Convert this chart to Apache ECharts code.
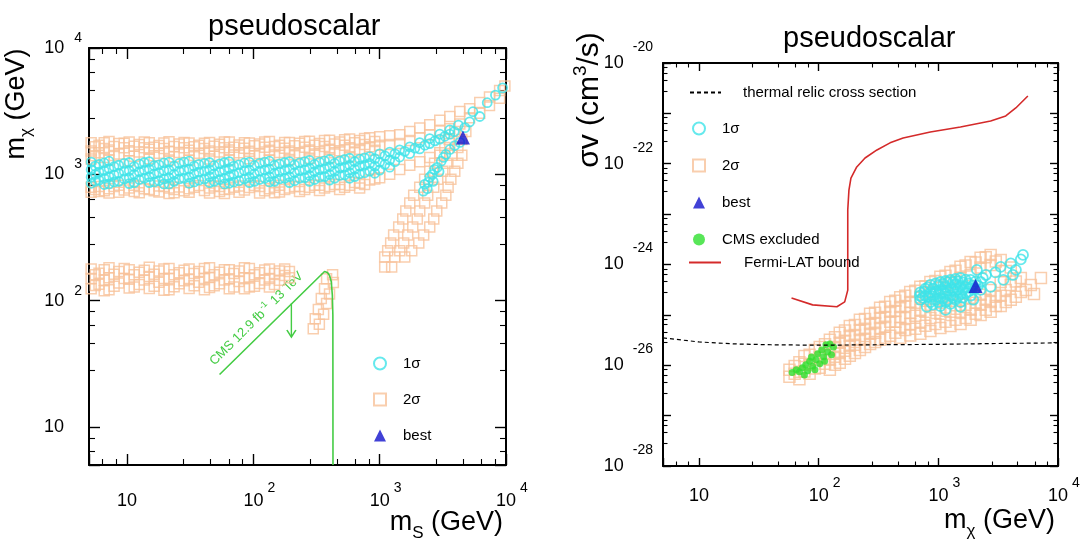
<!DOCTYPE html>
<html><head><meta charset="utf-8">
<script src="https://cdn.jsdelivr.net/npm/echarts@6/dist/echarts.min.js"></script>
<style>html,body{margin:0;padding:0;background:#fff}#c{width:1083px;height:540px}</style>
</head><body><div id="c"></div><script>
const SANS = '"Liberation Sans", Arial, Helvetica, sans-serif';
const SV_SHIFT = 26;            // sigma v plotted in units of 1e-26 cm^3/s
const SV_SCALE = 1e26;

// ---------- LEFT PANEL (m_S, m_chi) ----------
const L_SIGMA2 = [
[5.2,1780],[5.2,1530],[5.2,1320],[5.2,790],[5.2,720],
[6.0,1700],[6.0,1480],[6.0,800],[6.0,730],
[7.2,1820],[7.2,1560],[7.2,1300],[7.2,770],[7.2,710],
[8.6,1750],[8.6,1450],[8.6,820],[8.6,720],
[10.4,1800],[10.4,1540],[10.4,1280],[10.4,780],
[12.5,1720],[12.5,1500],[12.5,800],[12.5,715],
[15,1780],[15,1580],[15,1330],[15,760],
[17.9,1690],[17.9,1470],[17.9,810],[17.9,725],
[21.5,1810],[21.5,1520],[21.5,1300],[21.5,780],[21.5,705],
[25.9,1740],[25.9,1490],[25.9,795],
[31,1770],[31,1550],[31,1290],[31,770],[31,720],
[37,1700],[37,1470],[37,815],
[45,1790],[45,1530],[45,1320],[45,780],[45,710],
[54,1730],[54,1500],[54,800],[54,730],
[64.5,1800],[64.5,1560],[64.5,1300],[64.5,765],
[77,1710],[77,1480],[77,810],[77,720],
[93,1770],[93,1520],[93,1330],[93,785],
[112,1740],[112,1460],[112,800],[112,710],
[134,1820],[134,1550],[134,1300],[134,770],
[161,1700],[161,1490],[161,820],[161,725],
[193,1790],[193,1530],[193,1310],[193,780],
[232,1760],[232,1480],[232,800],[232,730],
[278,1830],[278,1560],[278,1340],[278,790],
[334,1750],[334,1510],[334,820],[334,745],
[401,1860],[401,1580],[401,1350],[401,800],
[482,1800],[482,1540],[482,830],[482,760],
[578,1900],[578,1620],[578,1380],[578,820],
[694,1850],[694,1580],[694,850],[694,780],
[833,1950],[833,1650],[833,900],
[1000,1980],[1000,1700],[1000,940],
[1200,2020],[1200,1720],[1200,1000],
[1440,2060],[1440,1750],[1440,1090],
[1730,2180],[1730,1850],[1730,1180],
[2075,2330],[2075,1950],[2075,1260],
[2490,2470],[2490,2050],[2490,1360],
[2990,2680],[2990,2200],[2990,1480],
[3590,2870],[3590,2300],[3590,1750],
[4310,3150],[4310,2500],
[5150,3300],[5150,2800],[6200,3700],[6200,3050],[7400,4100],[7400,3500],[8900,4600],[8900,4000],[9800,5000]
];
const L_SIGMA2_B = [
[5.6,1650],[5.6,1400],[5.6,760],[6.6,1780],[6.6,1600],[6.6,1360],[6.6,740],[7.9,1660],[7.9,1410],[7.9,800],
[9.5,1760],[9.5,1620],[9.5,750],[11.4,1670],[11.4,1390],[11.4,820],[11.4,730],[13.7,1800],[13.7,1620],[13.7,770],
[16.4,1640],[16.4,1400],[16.4,740],[19.6,1770],[19.6,1600],[19.6,800],[23.6,1660],[23.6,1380],[23.6,760],[23.6,715],
[28.3,1790],[28.3,1620],[28.3,740],[34,1650],[34,1410],[34,790],[41,1760],[41,1600],[41,745],[49,1670],[49,1390],[49,810],
[59,1800],[59,1620],[59,760],[59,705],[70,1640],[70,1420],[70,790],[85,1780],[85,1610],[85,750],[102,1680],[102,1400],[102,815],
[123,1800],[123,1640],[123,740],[147,1660],[147,1420],[147,790],[147,715],[177,1790],[177,1610],[177,760],
[212,1680],[212,1430],[212,800],[255,1820],[255,1640],[255,760],[305,1700],[305,1450],[305,820],
[366,1850],[366,1660],[366,780],[440,1740],[440,1480],[440,830],[528,1880],[528,1700],[528,790],
[634,1780],[634,1500],[634,860],[760,1920],[760,1720],[760,830],[915,1820],[915,1550],[915,920]
];
const L_SIGMA2_LOW = [
[5.2,178],[5.2,150],[5.2,124],[6.0,165],[6.0,135],[7.2,182],[7.2,152],[7.2,122],[8.6,170],[8.6,138],
[10.4,176],[10.4,148],[10.4,126],[12.5,168],[12.5,134],[15,184],[15,155],[15,125],[17.9,172],[17.9,140],
[21.5,180],[21.5,150],[21.5,122],[25.9,166],[25.9,136],[31,178],[31,147],[31,125],[37,170],[37,140],
[45,182],[45,153],[45,127],[54,168],[54,136],[64.5,176],[64.5,149],[64.5,124],[77,172],[77,142],
[93,180],[93,151],[93,128],[112,166],[112,137],[134,178],[134,150],[134,128],[161,172],[161,145],
[193,170],[193,152],
[5.6,160],[5.6,132],[6.6,176],[6.6,145],[6.6,120],[7.9,162],[7.9,130],[9.5,180],[9.5,150],[11.4,160],[11.4,128],
[13.7,174],[13.7,146],[16.4,162],[16.4,130],[19.6,178],[19.6,150],[19.6,121],[23.6,160],[23.6,129],[28.3,174],[28.3,144],
[34,164],[34,131],[41,180],[41,150],[41,122],[49,160],[49,131],[59,176],[59,146],[70,164],[70,128],[85,182],[85,152],[85,124],
[102,160],[102,130],[123,175],[123,146],[147,164],[147,134],[177,178],[177,158]
];
const L_SIGMA2_PATCH = [
[424,160],[380,149],[430,139],[366,124],[401,113],[345,104],[380,95],[327,85],[360,78],[309,72],[333,65],[298,60]
];
const L_SIGMA2_BRANCH = [
[1096,185],[1244,185],
[1096,222],[1315,222],[1580,222],
[1157,248],[1442,248],[1793,248],
[1222,286],[1550,286],[2040,286],
[1290,331],[1667,331],[2230,331],
[1415,383],[1828,383],[2490,383],
[1523,443],[1985,443],[2680,443],
[1610,512],[2075,512],[2830,512],
[1730,592],[2270,592],[3100,592],
[1860,684],[2400,684],[3340,684],
[2075,791],[2680,791],[3480,791],
[2270,914],[2880,914],[3660,914],
[2490,1057],[3160,1057],[3930,1057],
[2720,1222],[3400,1222],[4160,1222],
[2990,1413],[3740,1413],[4470,1413],
[3280,1633],[4160,1633],
[3550,1888],[4470,1888],
[3930,2183],[4810,2183]
];
const L_SIGMA1 = [
[5.2,1250],[5.2,1090],[5.2,950],[5.2,850],
[6.0,1200],[6.0,1040],[6.0,900],
[7.2,1270],[7.2,1110],[7.2,960],[7.2,840],
[8.6,1180],[8.6,1020],[8.6,880],
[10.4,1240],[10.4,1070],[10.4,940],[10.4,845],
[12.5,1210],[12.5,1050],[12.5,910],
[15,1260],[15,1100],[15,960],[15,860],
[17.9,1190],[17.9,1030],[17.9,890],
[21.5,1250],[21.5,1080],[21.5,940],[21.5,840],
[25.9,1220],[25.9,1060],[25.9,920],
[31,1270],[31,1100],[31,950],[31,850],
[37,1200],[37,1040],[37,900],
[45,1240],[45,1090],[45,960],[45,860],
[54,1210],[54,1050],[54,910],
[64.5,1260],[64.5,1110],[64.5,970],[64.5,850],
[77,1190],[77,1030],[77,890],
[93,1250],[93,1080],[93,950],[93,860],
[112,1220],[112,1060],[112,910],
[134,1270],[134,1100],[134,960],[134,870],
[161,1210],[161,1050],[161,920],
[193,1260],[193,1100],[193,960],[193,860],
[232,1230],[232,1070],[232,930],
[278,1290],[278,1120],[278,980],[278,880],
[334,1250],[334,1090],[334,950],
[401,1310],[401,1150],[401,1000],[401,900],
[482,1280],[482,1120],[482,980],
[578,1340],[578,1180],[578,1030],[578,930],
[694,1320],[694,1160],[694,1010],
[833,1380],[833,1220],[833,1060],
[1000,1450],[1000,1250],[1000,1080],
[1200,1500],[1200,1300],[1200,1140],
[1440,1560],[1440,1370],
[1730,1650],[1730,1460],
[2075,1780],[2075,1590],
[2490,1920],[2490,1750],
[2990,2080],[2990,1900],
[3590,2250],[3590,2080],
[4200,2450],[4730,2340],[5150,2600],[5470,3130],[6200,2870],[7100,3690],[8250,4240],[9400,4840],
[2220,735],[2380,770],[2270,834],[2420,866],[2650,880],[2490,950],[2610,1000],[2720,1094],
[2950,1050],[2850,1135],[3070,1270],[3200,1360],[3340,1436],[3600,1573],[3930,1690],[4310,1790]
];
const L_SIGMA1_B = [
[5.6,1160],[5.6,1000],[5.6,880],[6.6,1230],[6.6,1070],[6.6,930],[6.6,830],[7.9,1150],[7.9,990],[7.9,870],
[9.5,1220],[9.5,1060],[9.5,920],[11.4,1150],[11.4,1000],[11.4,860],[13.7,1240],[13.7,1080],[13.7,930],
[16.4,1170],[16.4,1010],[16.4,870],[19.6,1230],[19.6,1070],[19.6,920],[19.6,840],[23.6,1160],[23.6,1000],[23.6,880],
[28.3,1250],[28.3,1080],[28.3,930],[34,1160],[34,1010],[34,870],[41,1220],[41,1060],[41,920],[49,1170],[49,1010],[49,880],
[59,1240],[59,1080],[59,930],[59,840],[70,1160],[70,1000],[70,870],[85,1230],[85,1070],[85,920],[102,1170],[102,1010],[102,880],
[123,1250],[123,1080],[123,930],[147,1180],[147,1020],[147,880],[177,1240],[177,1080],[177,930],[212,1190],[212,1030],[212,890],
[255,1260],[255,1090],[255,940],[305,1200],[305,1050],[305,910],[366,1280],[366,1110],[366,960],[440,1220],[440,1060],[440,930],
[528,1310],[528,1140],[528,990],[634,1260],[634,1100],[634,960],[760,1350],[760,1180],[760,1030],[915,1330],[915,1160],[915,1020],
[1100,1400],[1100,1200],[1320,1450],[1320,1260],[1580,1520],[1900,1610],[2280,1700],[2740,1840],[3280,2000],[3900,2180]
];
const L_BEST = [[4560,1960]];
const L_CMS_BOUND = [[54,26],[366,170],[386,167],[401,158],[414,141],[422,110],[426,77],[427,5]];
const L_CMS_ARROW = [[200,95],[200,52]];
const L_CMS_TEXT_AT = [106,72];

// ---------- RIGHT PANEL (m_chi, sigma v) ----------
const R_SIGMA2 = [
[57,8.1e-27],[57,5.9e-27],
[69,1.15e-26],[69,7.4e-27],[69,5.3e-27],
[84,1.61e-26],[84,1.02e-26],[84,6.8e-27],
[102,2.3e-26],[102,1.45e-26],[102,8.9e-27],
[124,3.2e-26],[124,2.0e-26],[124,1.28e-26],[124,8.1e-27],
[150,4.4e-26],[150,2.8e-26],[150,1.75e-26],[150,1.12e-26],
[182,6.0e-26],[182,3.85e-26],[182,2.45e-26],[182,1.55e-26],
[221,8.0e-26],[221,5.0e-26],[221,3.2e-26],[221,2.0e-26],
[269,1.05e-25],[269,6.6e-26],[269,4.2e-26],[269,2.65e-26],
[326,1.38e-25],[326,8.7e-26],[326,5.5e-26],[326,3.2e-26],
[396,1.8e-25],[396,1.15e-25],[396,7.3e-26],[396,3.85e-26],
[480,2.25e-25],[480,1.44e-25],[480,9.1e-26],[480,5.5e-26],[480,3.5e-26],
[582,2.85e-25],[582,1.8e-25],[582,1.1e-25],[582,6.6e-26],[582,3.9e-26],
[707,3.6e-25],[707,2.25e-25],[707,1.26e-25],[707,7.3e-26],[707,4.2e-26],
[858,4.5e-25],[858,2.85e-25],[858,1.58e-25],[858,8.7e-26],[858,4.8e-26],
[1040,5.7e-25],[1040,3.4e-25],[1040,2.0e-25],[1040,1.05e-25],[1040,5.5e-26],
[1262,7.1e-25],[1262,4.3e-25],[1262,2.2e-25],[1262,1.15e-25],[1262,6.0e-26],
[1532,9.0e-25],[1532,5.4e-25],[1532,2.0e-25],[1532,1.15e-25],[1532,6.6e-26],
[1860,1.12e-24],[1860,6.2e-25],[1860,2.2e-25],[1860,1.26e-25],[1860,8.0e-26],
[2255,1.36e-24],[2255,8.7e-25],[2255,2.5e-25],[2255,1.58e-25],[2255,1.0e-25],
[2736,1.55e-24],[2736,9.8e-25],[2736,3.1e-25],[2736,1.8e-25],[2736,1.15e-25],
[3320,1.23e-24],[3320,4.5e-25],[3320,2.4e-25],[3320,1.5e-25],
[4030,8.7e-25],[4030,3.9e-25],[4030,2.0e-25],
[4890,5.4e-25],[4890,2.85e-25],
[5930,3.9e-25],[7200,5.4e-25],[6300,2.6e-25]
];
const R_SIGMA2_B = [
[63,9.7e-27],[63,6.8e-27],
[76,1.53e-26],[76,1.07e-26],[76,7.5e-27],
[93,2.0e-26],[93,1.28e-26],[93,8.6e-27],
[113,2.6e-26],[113,1.68e-26],[113,1.07e-26],
[137,3.6e-26],[137,2.3e-26],[137,1.47e-26],[137,1.02e-26],
[166,4.9e-26],[166,3.05e-26],[166,1.95e-26],[166,1.34e-26],
[201,6.3e-26],[201,4.0e-26],[201,2.54e-26],[201,1.75e-26],
[244,8.3e-26],[244,5.3e-26],[244,3.35e-26],[244,2.3e-26],
[296,1.1e-25],[296,6.9e-26],[296,4.4e-26],[296,2.9e-26],
[359,1.45e-25],[359,9.1e-26],[359,5.8e-26],[359,3.5e-26],
[437,1.9e-25],[437,1.2e-25],[437,7.3e-26],[437,4.4e-26],
[529,2.4e-25],[529,1.5e-25],[529,8.7e-26],[529,5.0e-26],
[642,3.0e-25],[642,1.75e-25],[642,9.6e-26],[642,5.3e-26],
[780,3.7e-25],[780,2.1e-25],[780,1.15e-25],[780,6.1e-26],
[945,4.7e-25],[945,2.5e-25],[945,1.26e-25],[945,6.6e-26],
[1148,6.0e-25],[1148,2.8e-25],[1148,1.4e-25],[1148,7.3e-26],
[1393,7.5e-25],[1393,1.55e-25],[1393,8.0e-26],
[1690,9.5e-25],[1690,1.58e-25],[1690,8.7e-26],
[2050,1.1e-24],[2050,1.75e-25],[2050,1.05e-25],
[2490,1.4e-24],[2490,2.0e-25],[2490,1.26e-25],
[3020,1.15e-24],[3020,2.3e-25],[3020,1.5e-25],
[3660,7.4e-25],[3660,3.1e-25],[3660,1.8e-25],
[4440,4.6e-25],[4440,2.3e-25],
[5390,3.1e-25]
];
const R_CMS_EXCL = [
[60,7.2e-27],[65,8.1e-27],[69,7.4e-27],[73,8.9e-27],[78,1.02e-26],[81,7.8e-27],[84,1.2e-26],[89,9.6e-27],
[87,1.45e-26],[95,1.28e-26],[98,1.7e-26],[102,1.07e-26],[106,2.0e-26],[110,1.47e-26],[115,2.54e-26],
[119,1.85e-26],[124,2.65e-26],[128,1.61e-26],[133,2.3e-26],[93,8.1e-27],[76,6.4e-27],[112,1.2e-26]
];
const R_SIGMA1 = [
[707,2.8e-25],[707,2.0e-25],[740,2.2e-25],[800,1.45e-25],[780,3.3e-25],[780,2.4e-25],
[858,3.94e-25],[858,2.75e-25],[858,1.8e-25],
[950,4.2e-25],[950,2.9e-25],[950,2.0e-25],
[1040,4.5e-25],[1040,3.13e-25],[1040,2.2e-25],[1040,1.5e-25],
[1150,4.7e-25],[1150,3.6e-25],[1150,2.6e-25],[1150,1.8e-25],[1150,1.26e-25],
[1262,4.95e-25],[1262,3.4e-25],[1262,2.4e-25],[1262,1.65e-25],
[1390,5.2e-25],[1390,4.0e-25],[1390,2.9e-25],[1390,2.0e-25],
[1532,5.4e-25],[1532,3.75e-25],[1532,2.6e-25],[1532,1.8e-25],[1530,1.45e-25],
[1690,5.0e-25],[1690,3.6e-25],[1690,2.7e-25],
[1860,4.95e-25],[1860,3.4e-25],[1860,2.4e-25],[1960,2.0e-25],
[2050,4.6e-25],[2050,3.3e-25],
[2255,4.5e-25],[2255,3.13e-25],
[2100,7.8e-25],[2500,6.2e-25],[2740,3.6e-25],[3000,7.0e-25],[3320,9.0e-25],[3500,4.95e-25],
[4030,1.05e-24],[4200,6.2e-25],[4450,7.8e-25],[4890,1.26e-24],[5100,1.55e-24],
[700,2.4e-25],[760,2.9e-25],[820,3.5e-25],[820,2.3e-25],[900,3.3e-25],[900,2.3e-25],[900,1.6e-25],
[1000,3.8e-25],[1000,2.6e-25],[1000,1.8e-25],[1100,4.1e-25],[1100,2.9e-25],[1100,2.1e-25],
[1200,4.4e-25],[1200,3.0e-25],[1200,2.0e-25],[1330,4.5e-25],[1330,3.1e-25],[1330,2.2e-25],
[1460,4.6e-25],[1460,3.2e-25],[1460,2.3e-25],[1600,4.4e-25],[1600,3.1e-25],[1600,2.2e-25],
[1780,4.2e-25],[1780,2.9e-25],[1950,3.8e-25],[2150,3.8e-25],[2350,5.4e-25]
];
const R_BEST = [[2047,3.76e-25]];
const R_THERMAL_X = [5, 10, 20, 40, 100, 300, 1000, 3000, 10000];
const R_THERMAL_Y = [3.5e-26, 2.9e-26, 2.65e-26, 2.55e-26, 2.5e-26, 2.55e-26, 2.6e-26, 2.7e-26, 2.78e-26];
const R_FERMI_X = [59.3, 89, 142, 165, 175, 175, 175, 179, 186, 208, 244, 307, 395, 508, 857, 1530, 2735, 3660, 4440, 5600];
const R_FERMI_Y = [2.17e-25, 1.58e-25, 1.45e-25, 1.81e-25, 3.1e-25, 1.95e-24, 1.21e-23, 3.0e-23, 5.2e-23, 8.65e-23, 1.3e-22, 1.88e-22, 2.6e-22, 3.25e-22, 4.28e-22, 5.37e-22, 7.06e-22, 8.9e-22, 1.28e-21, 2.21e-21];

// ---------- helpers ----------
const C_CYAN = '#3fe3e8', C_ORANGE = '#f7c29a', C_BLUE = '#1212cc', C_GREEN = '#2ee02e', C_CMS = '#44cc44', C_RED = '#d42a2a';
const sv = p => [p[0], p[1] * SV_SCALE];
function expOf(v) { if (!(v > 0)) return null; const e = Math.round(Math.log10(v)); return Math.abs(v / Math.pow(10, e) - 1) < 1e-6 ? e : null; }
const xRich = {
  b: { fontSize: 18, lineHeight: 41, fontFamily: SANS, color: '#000' },
  s: { fontSize: 14, lineHeight: 14, verticalAlign: 'top', padding: [0, 0, 0, 4], fontFamily: SANS, color: '#000' },
  p: { width: 12, lineHeight: 41 }
};
function xFmt(v) { const e = expOf(v); if (e === null || e < 1) return ''; if (e === 1) return '{b|10}'; return '{p|}{b|10}{s|' + e + '}'; }
const yRichL = {
  b: { fontSize: 18, lineHeight: 34, fontFamily: SANS, color: '#000' },
  s: { fontSize: 14, lineHeight: 14, verticalAlign: 'top', padding: [0, 0, 0, 10], fontFamily: SANS, color: '#000' },
  q: { width: 18, lineHeight: 34 }
};
function yFmtL(v) { const e = expOf(v); if (e === null || e < 1) return ''; if (e === 1) return '{b|10}{q|}'; return '{b|10}{s|' + e + '}'; }
const yRichR = {
  b: { fontSize: 18, lineHeight: 46, fontFamily: SANS, color: '#000' },
  s: { fontSize: 14, lineHeight: 14, verticalAlign: 'top', padding: [0, 0, 0, 9], fontFamily: SANS, color: '#000' }
};
function yFmtR(v) { const e = expOf(v); if (e === null) return ''; const E = e - SV_SHIFT; if (E % 2 !== 0) return ''; return '{b|10}{s|' + E + '}'; }

function axis(grid, pos, min, max, tickLen, minorLen, label) {
  return {
    gridIndex: grid, type: 'log', position: pos, min: min, max: max,
    axisLine: { show: true, onZero: false, lineStyle: { color: '#000', width: 2 } },
    axisTick: { show: true, inside: true, length: tickLen, lineStyle: { color: '#000', width: 1.4 } },
    minorTick: { show: true, length: minorLen, lineStyle: { color: '#000', width: 1.1 } },
    axisLabel: label ? label : { show: false },
    splitLine: { show: false }, minorSplitLine: { show: false }
  };
}
const hollow = (c, w) => ({ color: 'rgba(0,0,0,0)', borderColor: c, borderWidth: w });
const zip = (xs, ys) => xs.map((x, i) => [x, ys[i]]);
const noDot = { color: 'rgba(0,0,0,0)', borderColor: 'rgba(0,0,0,0)', borderWidth: 0 };

const L_RANGE = [5, 1e4];
const R_XRANGE = [5, 1e4];
const R_YRANGE = [Math.pow(10, -28 + SV_SHIFT), Math.pow(10, -20 + SV_SHIFT)];
const legendText = (pad) => ({ fontSize: 15, lineHeight: 12, color: '#000', fontFamily: SANS, padding: [0, 0, 0, pad] });

const chart = echarts.init(document.getElementById('c'), null, { renderer: 'canvas' });
const option = {
  animation: false,
  backgroundColor: '#fff',
  textStyle: { fontFamily: SANS },
  title: [
    { text: 'pseudoscalar', left: 208, top: 12, padding: 0, textStyle: { fontSize: 29, fontWeight: 'normal', color: '#000', fontFamily: SANS } },
    { text: 'pseudoscalar', left: 783, top: 24, padding: 0, textStyle: { fontSize: 29, fontWeight: 'normal', color: '#000', fontFamily: SANS } }
  ],
  grid: [
    { left: 89, top: 48, width: 417, height: 417, containLabel: false, outerBoundsMode: 'none' },
    { left: 663, top: 63, width: 395, height: 403, containLabel: false, outerBoundsMode: 'none' }
  ],
  legend: [
    { data: ['1σ', '2σ', 'best'], orient: 'vertical', left: 373, top: 356, padding: 0, itemWidth: 12, itemHeight: 12, itemGap: 21, selectedMode: false,
      textStyle: legendText(12) },
    { data: ['thermal relic cross section'], orient: 'vertical', left: 689, top: 85, padding: 0, itemWidth: 31, itemHeight: 12, selectedMode: false,
      itemStyle: noDot, textStyle: legendText(17) },
    { data: ['1σ', '2σ', 'best', 'CMS excluded'], orient: 'vertical', left: 692, top: 121, padding: 0, itemWidth: 12, itemHeight: 12, itemGap: 22, selectedMode: false,
      textStyle: legendText(12) },
    { data: ['Fermi-LAT bound'], orient: 'vertical', left: 688, top: 255, padding: 0, itemWidth: 32, itemHeight: 12, selectedMode: false,
      itemStyle: noDot, textStyle: legendText(18) }
  ],
  xAxis: [
    axis(0, 'bottom', L_RANGE[0], L_RANGE[1], 11, 6, { margin: 16, formatter: xFmt, rich: xRich }),
    axis(0, 'top', L_RANGE[0], L_RANGE[1], 11, 6, null),
    axis(1, 'bottom', R_XRANGE[0], R_XRANGE[1], 8, 4.5, { margin: 10, formatter: xFmt, rich: xRich }),
    axis(1, 'top', R_XRANGE[0], R_XRANGE[1], 8, 4.5, null)
  ],
  yAxis: [
    axis(0, 'left', L_RANGE[0], L_RANGE[1], 11, 6, { margin: 7, formatter: yFmtL, rich: yRichL }),
    axis(0, 'right', L_RANGE[0], L_RANGE[1], 11, 6, null),
    axis(1, 'left', R_YRANGE[0], R_YRANGE[1], 8, 4.5, { margin: 10, formatter: yFmtR, rich: yRichR }),
    axis(1, 'right', R_YRANGE[0], R_YRANGE[1], 8, 4.5, null)
  ],
  series: [
    { name: '2σ', type: 'scatter', xAxisIndex: 0, yAxisIndex: 0, symbol: 'rect', symbolSize: 10, itemStyle: hollow(C_ORANGE, 1.5),
      data: L_SIGMA2.concat(L_SIGMA2_B, L_SIGMA2_LOW, L_SIGMA2_PATCH, L_SIGMA2_BRANCH), silent: true },
    { name: '1σ', type: 'scatter', xAxisIndex: 0, yAxisIndex: 0, symbol: 'circle', symbolSize: 9, itemStyle: hollow(C_CYAN, 1.8), data: L_SIGMA1.concat(L_SIGMA1_B), silent: true },
    { name: 'best', type: 'scatter', xAxisIndex: 0, yAxisIndex: 0, symbol: 'triangle', symbolSize: 14, itemStyle: { color: C_BLUE }, data: L_BEST, silent: true },
    { type: 'line', xAxisIndex: 0, yAxisIndex: 0, symbol: 'none', lineStyle: { color: C_CMS, width: 1.6 }, data: L_CMS_BOUND, silent: true, z: 3 },
    { type: 'line', xAxisIndex: 0, yAxisIndex: 0, symbol: 'none', showSymbol: true, lineStyle: { color: C_CMS, width: 1.4 }, silent: true, z: 3,
      data: [L_CMS_ARROW[0], { value: L_CMS_ARROW[1], symbol: 'path://M0,0L5,8L10,0', symbolSize: [9, 7], symbolOffset: [0, -3], itemStyle: { color: 'rgba(0,0,0,0)', borderColor: C_CMS, borderWidth: 1.4 } }] },

    { name: '2σ', type: 'scatter', xAxisIndex: 2, yAxisIndex: 2, symbol: 'rect', symbolSize: 11, itemStyle: hollow(C_ORANGE, 1.5), data: R_SIGMA2.concat(R_SIGMA2_B).map(sv), silent: true },
    { name: 'CMS excluded', type: 'scatter', xAxisIndex: 2, yAxisIndex: 2, symbol: 'circle', symbolSize: 7, itemStyle: { color: C_GREEN }, data: R_CMS_EXCL.map(sv), silent: true },
    { name: '1σ', type: 'scatter', xAxisIndex: 2, yAxisIndex: 2, symbol: 'circle', symbolSize: 10, itemStyle: hollow(C_CYAN, 1.8), data: R_SIGMA1.map(sv), silent: true },
    { name: 'thermal relic cross section', type: 'line', xAxisIndex: 2, yAxisIndex: 2, symbol: 'none', itemStyle: { color: '#000' }, lineStyle: { color: '#000', width: 1.2, type: [4, 3] }, data: zip(R_THERMAL_X, R_THERMAL_Y).map(sv), silent: true, z: 4 },
    { name: 'Fermi-LAT bound', type: 'line', xAxisIndex: 2, yAxisIndex: 2, symbol: 'none', itemStyle: { color: C_RED }, lineStyle: { color: C_RED, width: 1.6 }, data: zip(R_FERMI_X, R_FERMI_Y).map(sv), silent: true },
    { name: 'best', type: 'scatter', xAxisIndex: 2, yAxisIndex: 2, symbol: 'triangle', symbolSize: 14, itemStyle: { color: C_BLUE }, data: R_BEST.map(sv), silent: true, z: 6 }
  ]
};
chart.setOption(option);

const axisNameRich = () => ({
  m: { fontSize: 27, lineHeight: 37, fontFamily: SANS, fill: '#000' },
  u: { fontSize: 17, lineHeight: 17, verticalAlign: 'bottom', fontFamily: SANS, fill: '#000' }
});
const cmsAt = chart.convertToPixel({ xAxisIndex: 0, yAxisIndex: 0 }, L_CMS_TEXT_AT);
chart.setOption({
  graphic: [
    { type: 'text', x: 503, y: 523, silent: true, style: { text: '{m|m}{u|S}{m| (GeV)}', rich: axisNameRich(), align: 'right', verticalAlign: 'middle' } },
    { type: 'text', x: 1055, y: 521, silent: true, style: { text: '{m|m}{u|χ}{m| (GeV)}', rich: axisNameRich(), align: 'right', verticalAlign: 'middle' } },
    { type: 'text', x: 16.5, y: 104, rotation: Math.PI / 2, silent: true, style: { text: '{m|m}{u|χ}{m| (GeV)}', rich: axisNameRich(), align: 'center', verticalAlign: 'middle' } },
    { type: 'text', x: 589.5, y: 100, rotation: Math.PI / 2, silent: true, style: { text: '{m|σv (cm}{u|3}{m|/s)}', rich: {
        m: { fontSize: 30, lineHeight: 37, fontFamily: SANS, fill: '#000' },
        u: { fontSize: 19, lineHeight: 19, verticalAlign: 'top', fontFamily: SANS, fill: '#000' } }, align: 'center', verticalAlign: 'middle' } },
    { type: 'text', x: cmsAt[0], y: cmsAt[1], rotation: Math.PI / 4, silent: true, style: { text: '{a|CMS 12.9 fb}{s|-1}{a| 13 TeV}', rich: {
        a: { fontSize: 13, lineHeight: 18, fontFamily: SANS, fill: C_CMS },
        s: { fontSize: 9, lineHeight: 9, verticalAlign: 'top', fontFamily: SANS, fill: C_CMS, padding: [0, 1, 0, 1] } }, align: 'center', verticalAlign: 'middle' } }
  ]
});
</script></body></html>
